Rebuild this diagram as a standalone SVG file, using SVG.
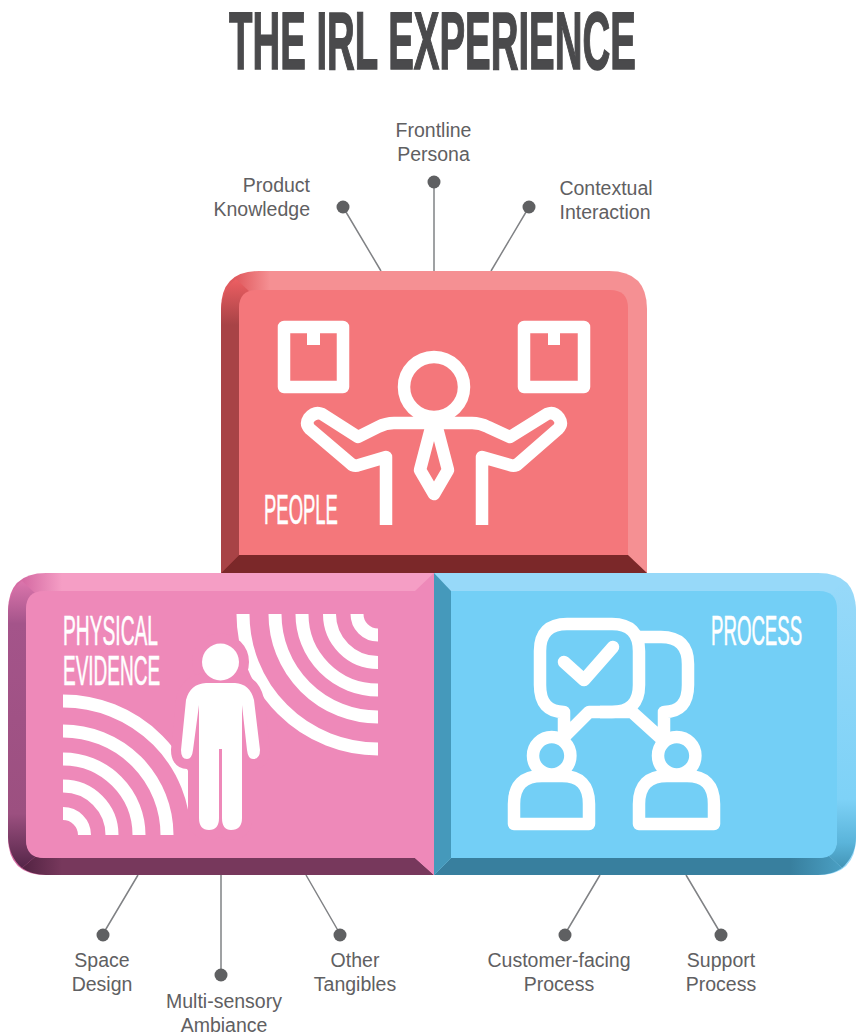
<svg xmlns="http://www.w3.org/2000/svg" width="856" height="1036" viewBox="0 0 856 1036">
<defs>
<style>
text{font-family:"Liberation Sans",Arial,sans-serif}
.t{font-size:19.5px;fill:#5f6062;text-anchor:middle}
.e{text-anchor:end}
.c{stroke:#808285;stroke-width:1.5;fill:none}
.d{fill:#5f6062}
.h{font-size:21px;fill:#fff;stroke:#fff;stroke-width:.3}
.i{fill:none;stroke:#fff;stroke-width:12.5;stroke-linejoin:round}
.a{fill:none;stroke:#fff;stroke-width:13}
</style>
<linearGradient id="pTop" gradientUnits="userSpaceOnUse" x1="236" y1="0" x2="270" y2="0"><stop offset="0" stop-color="#e05a5e"/><stop offset="1" stop-color="#f59093"/></linearGradient>
<linearGradient id="pLeft" gradientUnits="userSpaceOnUse" x1="0" y1="278" x2="0" y2="325"><stop offset="0" stop-color="#ee5f63"/><stop offset="1" stop-color="#a84346"/></linearGradient>
<linearGradient id="eTop" gradientUnits="userSpaceOnUse" x1="24" y1="0" x2="62" y2="0"><stop offset="0" stop-color="#d66ca4"/><stop offset="1" stop-color="#f59ec5"/></linearGradient>
<linearGradient id="eLeft" gradientUnits="userSpaceOnUse" x1="0" y1="580" x2="0" y2="872"><stop offset="0" stop-color="#dd76ad"/><stop offset=".15" stop-color="#a4548a"/><stop offset=".8" stop-color="#9c5080"/><stop offset="1" stop-color="#4f2244"/></linearGradient>
<linearGradient id="eBot" gradientUnits="userSpaceOnUse" x1="26" y1="0" x2="62" y2="0"><stop offset="0" stop-color="#562545"/><stop offset="1" stop-color="#77385c"/></linearGradient>
<linearGradient id="sRight" gradientUnits="userSpaceOnUse" x1="0" y1="580" x2="0" y2="872"><stop offset="0" stop-color="#97d9f9"/><stop offset=".75" stop-color="#7ed2f7"/><stop offset=".9" stop-color="#5ab4da"/><stop offset="1" stop-color="#3f8fb0"/></linearGradient>
<linearGradient id="sBot" gradientUnits="userSpaceOnUse" x1="790" y1="0" x2="842" y2="0"><stop offset="0" stop-color="#387f9e"/><stop offset="1" stop-color="#4a9fc3"/></linearGradient>
<clipPath id="cl"><rect x="63" y="690" width="125" height="145"/></clipPath>
<clipPath id="cr"><rect x="230" y="614" width="148" height="145"/></clipPath>
</defs>
<rect width="856" height="1036" fill="#fff"/>
<text transform="translate(229 69) scale(.96 2.03)" font-size="40" font-weight="700" fill="#4a4a4c" stroke="#4a4a4c" stroke-width=".8">THE IRL EXPERIENCE</text>
<g id="connectors">
<path class="c" d="M343 207L381 271M434 182V271M529 207L491 271M138 875L103 934M221 875V975M306 875L340 934M600 875L565 934M686 875L721 934"/>
<circle class="d" cx="343" cy="207" r="6.500"/><circle class="d" cx="434" cy="182" r="6.500"/><circle class="d" cx="529" cy="207" r="6.500"/>
<circle class="d" cx="103" cy="935" r="6.500"/><circle class="d" cx="221" cy="975" r="6.500"/><circle class="d" cx="340" cy="935" r="6.500"/><circle class="d" cx="565" cy="935" r="6.500"/><circle class="d" cx="721" cy="935" r="6.500"/>
</g>
<g id="people">
<path d="M221 573V309Q221 271 259 271H609Q647 271 647 309V573Z" fill="url(#pTop)"/>
<path d="M221 573V309Q222 290 236 279L250 292Q239 297 239 308V555Z" fill="url(#pLeft)"/>
<path d="M221 573L239 555H628L647 573Z" fill="#7b2829"/>
<path d="M239 555V308Q239 290 257 290H610Q628 290 628 308V555Z" fill="#f4777b"/>
<path class="i" d="M284 327H343V387H284ZM524 327H584V387H524Z"/>
<path d="M307 333H320V345H307ZM548 333H560V345H548Z" fill="#fff"/>
<circle class="i" cx="434" cy="387" r="30"/>
<path class="i" d="M386 525V457L359 465Q354 467 350 463L310 429Q305 424 309 418Q315 411 322 414L358 437L378 427Q386 423 394 423H472Q480 423 488 427L510 437L547 414Q554 411 559 418Q563 424 558 429L519 463Q515 467 510 465L482 457V525"/>
<path class="i" d="M431 428L420 470L434 494L448 470L437 428"/>
<text class="h" transform="translate(264 524) scale(.88 2)">PEOPLE</text>
</g>
<g id="physical-evidence">
<path d="M8 611Q8 573 46 573H434V875H46Q8 875 8 837Z" fill="url(#eTop)"/>
<path d="M8 837V611Q9 592 22 581L36 594Q26 599 26 610V840Q26 850 36 856L22 868Q9 857 8 837Z" fill="url(#eLeft)"/>
<path d="M22 868L36 856Q40 858 45 858H415L434 875H46Q32 875 22 868Z" fill="url(#eBot)"/>
<path d="M415 591L434 573V875L415 858Z" fill="#ee89b9"/>
<path d="M26 609Q26 591 44 591H415V858H44Q26 858 26 840Z" fill="#ee89b9"/>
<text class="h" transform="translate(63 645) scale(.915 2)">PHYSICAL</text>
<text class="h" transform="translate(63 685) scale(.905 2)">EVIDENCE</text>
<g clip-path="url(#cl)"><circle class="a" cx="63" cy="835" r="21.500"/><circle class="a" cx="63" cy="835" r="49"/><circle class="a" cx="63" cy="835" r="76"/><circle class="a" cx="63" cy="835" r="104"/><circle class="a" cx="63" cy="835" r="134"/></g>
<g clip-path="url(#cr)"><circle class="a" cx="378" cy="614" r="21"/><circle class="a" cx="378" cy="614" r="48.500"/><circle class="a" cx="378" cy="614" r="76"/><circle class="a" cx="378" cy="614" r="103"/><circle class="a" cx="378" cy="614" r="135"/></g>
<g fill="#ee89b9" stroke="#ee89b9" stroke-width="20">
<circle cx="220.500" cy="662" r="18.500"/>
<path d="M206 683H235Q250 684 254 700L260 750Q260 759 253 759Q248 759 247 750L242 705V818Q242 830 231 830Q222 830 222 818V749H219V818Q219 830 209 830Q199 830 199 818V705L193 750Q192 759 187 759Q181 759 181 750L186 700Q190 684 206 683Z"/>
</g>
<circle cx="220.500" cy="662" r="18.500" fill="#fff"/>
<path d="M206 683H235Q250 684 254 700L260 750Q260 759 253 759Q248 759 247 750L242 705V818Q242 830 231 830Q222 830 222 818V749H219V818Q219 830 209 830Q199 830 199 818V705L193 750Q192 759 187 759Q181 759 181 750L186 700Q190 684 206 683Z" fill="#fff"/>
</g>
<g id="process">
<path d="M434 573H818Q856 573 856 611V837Q856 875 818 875H434Z" fill="#97d9f9"/>
<path d="M856 611V837Q856 855 842 868L828 855Q837 850 837 840V609Q837 600 830 595L842 581Q855 592 856 611Z" fill="url(#sRight)"/>
<path d="M434 875L451 858H819Q824 858 828 855L842 868Q832 875 818 875Z" fill="url(#sBot)"/>
<path d="M434 573L451 591V858L434 875Z" fill="#4599bb"/>
<path d="M451 591H819Q837 591 837 609V840Q837 858 819 858H451Z" fill="#73cff6"/>
<text class="h" transform="translate(711 645) scale(.888 2)">PROCESS</text>
<g class="i">
<path d="M564 740V712Q540 712 540 685V651Q540 624 567 624H612Q639 624 639 651V685Q639 712 612 712H589L566 735"/>
<path d="M639 637H661Q688 637 688 664V685Q688 712 664 712V737M600 712H632L664 741"/>
<circle cx="551.700" cy="755.700" r="18.700"/><circle cx="676.700" cy="755.700" r="18.700"/>
<path d="M514 824V804Q514 776 542 776H562Q589 776 589 804V824Z"/>
<path d="M639 824V804Q639 776 667 776H687Q714 776 714 804V824Z"/>
<path d="M564 662L584 680L613 647" stroke-linecap="round"/>
</g>
</g>
<g id="labels">
<text class="t e" x="310" y="192">Product</text><text class="t e" x="310" y="216">Knowledge</text>
<text class="t" x="433.500" y="136.500">Frontline</text><text class="t" x="433.500" y="160.500">Persona</text>
<text class="t" x="606" y="195">Contextual</text><text class="t" x="605" y="219">Interaction</text>
<text class="t" x="102" y="967">Space</text><text class="t" x="102" y="991">Design</text>
<text class="t" x="224" y="1008">Multi-sensory</text><text class="t" x="224" y="1032">Ambiance</text>
<text class="t" x="355" y="967">Other</text><text class="t" x="355" y="991">Tangibles</text>
<text class="t" x="559" y="967">Customer-facing</text><text class="t" x="559" y="991">Process</text>
<text class="t" x="721" y="967">Support</text><text class="t" x="721" y="991">Process</text>
</g>
</svg>
